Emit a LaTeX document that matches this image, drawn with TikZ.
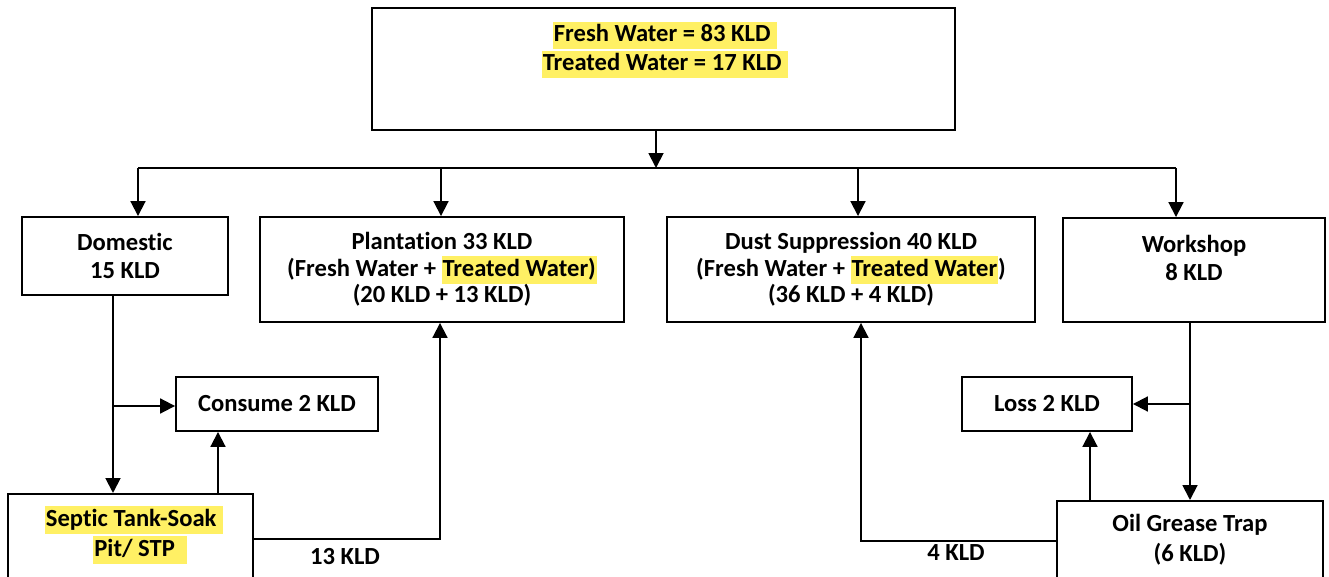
\documentclass[tikz,border=0pt]{standalone}
\usepackage{fontspec}
\setmainfont[Ligatures=NoCommon]{Carlito}
\usepackage{xcolor}
\usetikzlibrary{arrows.meta}

\definecolor{hly}{RGB}{255,240,100}
\newcommand{\hlt}[1]{{\setlength{\fboxsep}{0.5pt}\colorbox{hly}{\rule[-3.8pt]{0pt}{14.6pt}#1}}}

\begin{document}
\begin{tikzpicture}[
        x=0.02cm, y=-0.02cm,
        >={Triangle[length=8.5pt,width=8.5pt]},
        box/.style={
            rectangle, draw=black, line width=1.1pt, fill=white,
            minimum width=#1, align=center, inner sep=0pt,
            font=\fontsize{14}{16}\selectfont\bfseries
        },
        txt/.style={align=center, inner sep=0pt, font=\fontsize{14}{16}\selectfont\bfseries},
        line/.style={line width=1.1pt, black},
        arr/.style={->, line width=1.1pt, black},
    ]
    \useasboundingbox (0,0) rectangle (1329,577);

    % ── Source ──
    \node[box=11.66cm, minimum height=2.44cm] (src) at (663.5,69) {};
    \node[txt, font=\fontsize{14}{16.4}\selectfont\bfseries] (srctxt) at (665,50) {\hlt{Fresh Water = 83 KLD\ }\\\hlt{Treated Water = 17 KLD\ }};

    % ── Consumers ──
    \node[box=4.12cm, minimum height=1.56cm] (dom) at (125,256) {Domestic\\15 KLD};
    \node[box=7.28cm, minimum height=2.1cm, font=\fontsize{14}{15}\selectfont\bfseries] (plant) at (442,269.5) {Plantation 33 KLD\\(Fresh Water + \hlt{Treated Water)}\\(20 KLD + 13 KLD)};
    \node[box=7.36cm, minimum height=2.1cm, font=\fontsize{14}{15}\selectfont\bfseries] (dust) at (851,269.5) {Dust Suppression 40 KLD\\(Fresh Water + \hlt{Treated Water})\\(36 KLD + 4 KLD)};
    \node[box=5.24cm, minimum height=2.08cm] (ws) at (1194,270) {Workshop\\8 KLD\\[-7pt]\strut};

    % ── Losses ──
    \node[box=4.04cm, minimum height=1.08cm] (cons) at (277,404) {Consume 2 KLD};
    \node[box=3.4cm, minimum height=1.08cm] (loss) at (1047,404) {Loss 2 KLD};

    % ── Treatment ──
    \node[box=4.9cm, minimum height=2.4cm, anchor=north] (septic) at (130.5,493) {};
    \node[txt, font=\fontsize{14}{17}\selectfont\bfseries] (septictxt) at (134,535) {\hlt{Septic Tank-Soak\ }\\\hspace*{0.5em}\hlt{Pit/ STP\ \ }};
    \node[box=5.32cm, minimum height=2.4cm, anchor=north] (oil) at (1190,500) {};
    \node[txt, font=\fontsize{14}{17}\selectfont\bfseries] (oiltxt) at (1190,540) {Oil Grease Trap\\(6 KLD)};

    % ── Distribution ──
    \coordinate (split) at (656,168);
    \coordinate (d1) at (138,168);
    \coordinate (d2) at (441,168);
    \coordinate (d3) at (858,168);
    \coordinate (d4) at (1176,168);
    \draw[arr] (src.south -| split) -- (split);
    \draw[line] (d1) -- (d4);
    \draw[arr] (d1) -- (d1 |- dom.north);
    \draw[arr] (d2) -- (d2 |- plant.north);
    \draw[arr] (d3) -- (d3 |- dust.north);
    \draw[arr] (d4) -- (d4 |- ws.north);

    % ── Domestic side ──
    \coordinate (b1) at (113,406);
    \coordinate (u1) at (218,460);
    \coordinate (r1) at (440,539);
    \draw[arr] (b1 |- dom.south) -- (b1 |- septic.north);
    \draw[arr] (b1) -- (b1 -| cons.west);
    \draw[arr] (u1 |- septic.north) -- (u1 |- cons.south);
    \draw[arr] (r1 -| septic.east) -- (r1) -- (r1 |- plant.south);
    \node[txt] (lbl13) at (345,557) {13 KLD};

    % ── Workshop side ──
    \coordinate (b2) at (1190,404);
    \coordinate (u2) at (1090,460);
    \coordinate (r2) at (861,541);
    \draw[arr] (b2 |- ws.south) -- (b2 |- oil.north);
    \draw[arr] (b2) -- (b2 -| loss.east);
    \draw[arr] (u2 |- oil.north) -- (u2 |- loss.south);
    \draw[arr] (r2 -| oil.west) -- (r2) -- (r2 |- dust.south);
    \node[txt] (lbl4) at (956,553) {4 KLD};

\end{tikzpicture}
\end{document}
